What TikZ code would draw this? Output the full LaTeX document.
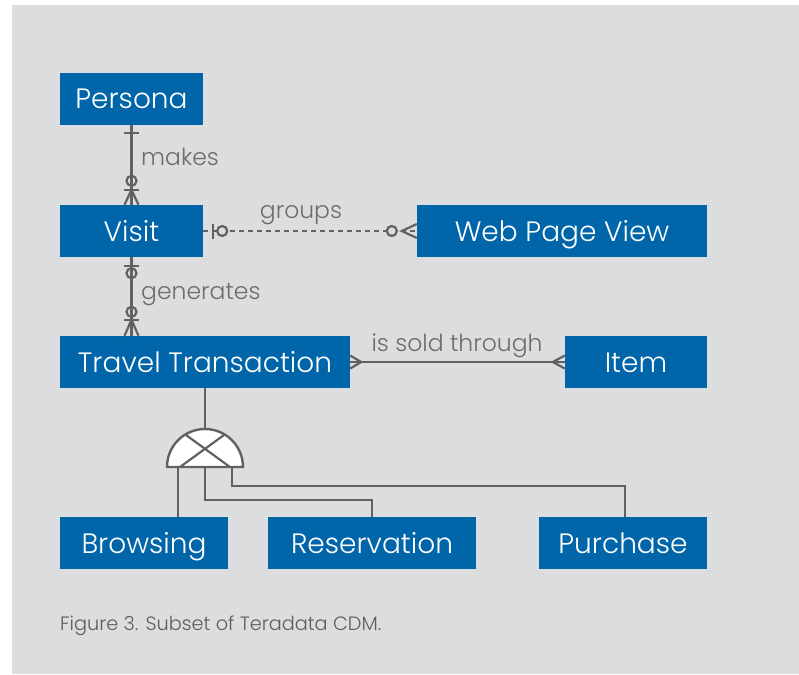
\documentclass[tikz,border=0pt]{standalone}
\usepackage{fontspec}
\setmainfont{Poppins Light}
\usetikzlibrary{calc}
\definecolor{panel}{RGB}{220,221,223}
\definecolor{entity}{RGB}{0,101,169}
\definecolor{wire}{RGB}{96,97,99}
\definecolor{labelgrey}{RGB}{108,109,111}
\tikzset{
  entitybox/.style={draw=none, fill=entity, text=white, inner sep=0pt,
    minimum height=52pt, text height=20pt, text depth=0pt,
    font=\fontsize{28}{33}\selectfont},
  rel/.style={draw=wire, line width=2.4pt},
  cardmark/.style={draw=wire, line width=2.2pt},
  rellabel/.style={text=labelgrey, inner sep=0pt, font=\fontsize{23.5}{28}\selectfont},
}
\begin{document}
\begin{tikzpicture}[x=1pt, y=-1pt]
  \useasboundingbox (0,0) rectangle (799,674);
  \fill[panel] (12,5) rectangle (799,674);

  % entities
  \node[entitybox, minimum width=143pt] (persona) at (131.5,99) {Persona};
  \node[entitybox, minimum width=143pt] (visit) at (131.5,231) {Visit};
  \node[entitybox, minimum width=290pt] (webview) at (562,231) {Web Page View};
  \node[entitybox, minimum width=290pt] (travel) at (205,362) {Travel Transaction};
  \node[entitybox, minimum width=142pt] (item) at (636,362) {Item};
  \node[entitybox, minimum width=168pt] (browsing) at (144,543) {Browsing};
  \node[entitybox, minimum width=208pt] (reservation) at (372,543) {Reservation};
  \node[entitybox, minimum width=168pt] (purchase) at (623,543) {Purchase};

  % Persona makes Visit
  \draw[rel] (persona.south) -- (visit.north);
  \draw[cardmark] ($(persona.south)+(-7.5,8)$) -- ++(15,0);
  \draw[cardmark] ($(visit.north)+(0,-24)$) circle[radius=5pt];
  \draw[cardmark] ($(visit.north)+(-7.5,-15)$) -- ++(15,0);
  \draw[cardmark] ($(visit.north)+(-7,0)$) -- ($(visit.north)+(0,-15)$) -- ($(visit.north)+(7,0)$);
  \node[rellabel, anchor=west] (makes) at (141,157) {makes};

  % Visit groups Web Page View
  \draw[rel, line width=2.3pt, dash pattern=on 5pt off 4pt] (visit.east) -- (webview.west);
  \draw[cardmark] ($(visit.east)+(10,-7.5)$) -- ++(0,15);
  \draw[cardmark, fill=panel] ($(visit.east)+(19,0)$) circle[radius=5pt];
  \draw[cardmark, fill=panel] ($(webview.west)+(-25,0)$) circle[radius=5pt];
  \draw[cardmark] ($(webview.west)+(0,-7)$) -- ($(webview.west)+(-15,0)$) -- ($(webview.west)+(0,7)$);
  \node[rellabel] (groups) at (301,215) {groups};

  % Visit generates Travel Transaction (vertical at the Visit centre)
  \coordinate (gentop) at (visit.south);
  \coordinate (genend) at (gentop |- travel.north);
  \draw[rel] (gentop) -- (genend);
  \draw[cardmark] ($(gentop)+(-7.5,9)$) -- ++(15,0);
  \draw[cardmark] ($(gentop)+(0,16)$) circle[radius=5pt];
  \draw[cardmark] ($(genend)+(0,-24)$) circle[radius=5pt];
  \draw[cardmark] ($(genend)+(-7.5,-16)$) -- ++(15,0);
  \draw[cardmark] ($(genend)+(-7,0)$) -- ($(genend)+(0,-16)$) -- ($(genend)+(7,0)$);
  \node[rellabel, anchor=west] (generates) at (141,295) {generates};

  % Travel Transaction is sold through Item
  \draw[rel] (travel.east) -- (item.west);
  \draw[cardmark] ($(travel.east)+(0,-6.5)$) -- ($(travel.east)+(11,0)$) -- ($(travel.east)+(0,6.5)$);
  \draw[cardmark] ($(item.west)+(0,-6.5)$) -- ($(item.west)+(-12,0)$) -- ($(item.west)+(0,6.5)$);
  \node[rellabel] (soldthrough) at (457,346) {is sold through};

  % exclusive subtype symbol
  \coordinate (sub) at (205,467);
  \draw[rel] (travel.south) -- ($(sub)+(0,-37)$);
  \draw[rel, fill=white] ($(sub)+(-38,0)$) arc[start angle=180, end angle=0, radius=38pt] -- cycle;
  \draw[cardmark] ($(sub)+(-19,-32)$) -- ($(sub)+(25,0)$);
  \draw[cardmark] ($(sub)+(-25,0)$) -- ($(sub)+(19,-32)$);

  % subtype branches
  \coordinate (subleft) at ($(sub)+(-27,0)$);
  \coordinate (subright) at ($(sub)+(27,0)$);
  \coordinate (purchasein) at ($(purchase.north)+(2,0)$);
  \draw[rel] (subleft) -- (subleft |- browsing.north);
  \draw[rel] (sub) -- ++(0,33) -| (reservation.north);
  \draw[rel] (subright) -- ++(0,19) -| (purchasein);

  % caption
  \node[anchor=west, text=labelgrey!85!black, inner sep=0pt,
        font=\fontsize{19.3}{23}\selectfont] (caption) at (60,626) {Figure 3. Subset of Teradata CDM.};
\end{tikzpicture}
\end{document}
